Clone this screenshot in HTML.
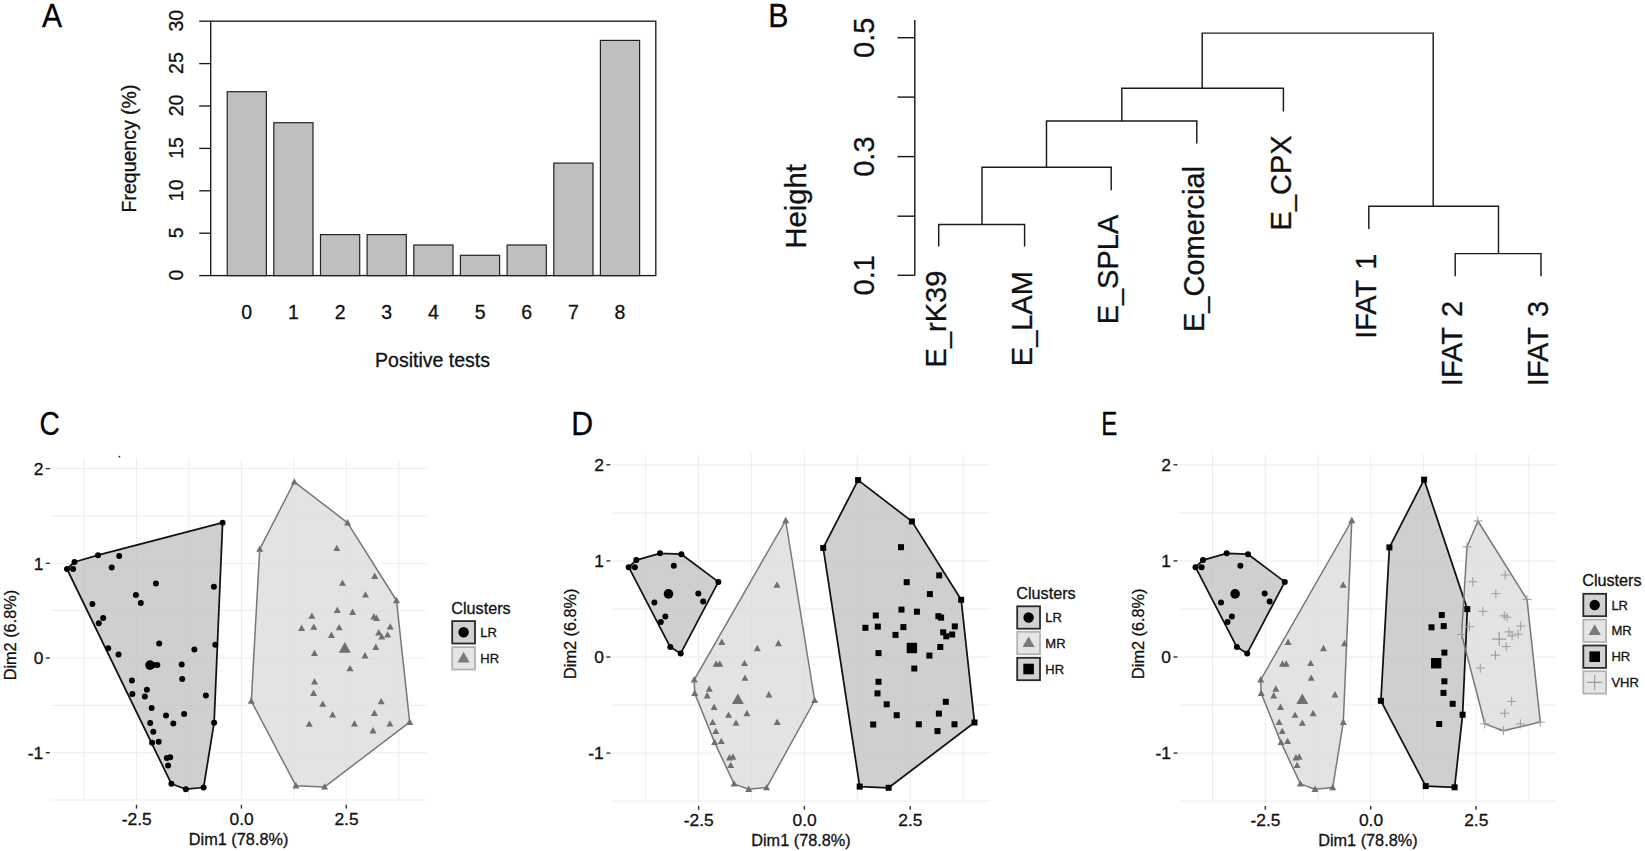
<!DOCTYPE html>
<html lang="en"><head><meta charset="utf-8"><title>Figure</title>
<style>
html,body{margin:0;padding:0;background:#fff;}
body{width:1645px;height:851px;overflow:hidden;}
svg{display:block;font-family:"Liberation Sans", sans-serif;}
text{stroke:#111;stroke-width:0.3px;}
.pl{font-family:"Liberation Sans",sans-serif;}
</style></head><body>
<svg width="1645" height="851" viewBox="0 0 1645 851">
<rect width="1645" height="851" fill="#fff"/>
<text transform="translate(42.0 27.3) scale(0.925 1)" font-size="32.6" fill="#000" stroke="#000" stroke-width="0.35" class="pl">A</text>
<text transform="translate(768.2 27.3) scale(0.93 1)" font-size="32.6" fill="#000" stroke="#000" stroke-width="0.35" class="pl">B</text>
<text transform="translate(39.5 434.9) scale(0.865 1)" font-size="32.6" fill="#000" stroke="#000" stroke-width="0.35" class="pl">C</text>
<text transform="translate(571.3 434.9) scale(0.93 1)" font-size="32.6" fill="#000" stroke="#000" stroke-width="0.35" class="pl">D</text>
<text transform="translate(1101.2 434.9) scale(0.74 1)" font-size="32.6" fill="#000" stroke="#000" stroke-width="0.35" class="pl">E</text>
<g stroke="#1a1a1a" stroke-width="1.35" fill="none">
<rect x="210.7" y="21.2" width="445.09999999999997" height="254.40000000000003"/>
<line x1="199.2" y1="275.6" x2="210.7" y2="275.6"/>
<line x1="199.2" y1="233.2" x2="210.7" y2="233.2"/>
<line x1="199.2" y1="190.8" x2="210.7" y2="190.8"/>
<line x1="199.2" y1="148.4" x2="210.7" y2="148.4"/>
<line x1="199.2" y1="106.0" x2="210.7" y2="106.0"/>
<line x1="199.2" y1="63.6" x2="210.7" y2="63.6"/>
<line x1="199.2" y1="21.2" x2="210.7" y2="21.2"/>
</g>
<g stroke="#222" stroke-width="1.2" fill="#bfbfbf">
<rect x="227.2" y="91.7" width="39.2" height="183.9"/>
<rect x="273.8" y="122.7" width="39.2" height="152.9"/>
<rect x="320.5" y="234.6" width="39.2" height="41.0"/>
<rect x="367.1" y="234.6" width="39.2" height="41.0"/>
<rect x="413.8" y="245.0" width="39.2" height="30.6"/>
<rect x="460.4" y="255.3" width="39.2" height="20.3"/>
<rect x="507.1" y="245.0" width="39.2" height="30.6"/>
<rect x="553.8" y="163.1" width="39.2" height="112.5"/>
<rect x="600.4" y="40.4" width="39.2" height="235.2"/>
</g>
<text x="246.8" y="318.6" font-size="19.5" text-anchor="middle" fill="#111">0</text>
<text x="293.4" y="318.6" font-size="19.5" text-anchor="middle" fill="#111">1</text>
<text x="340.1" y="318.6" font-size="19.5" text-anchor="middle" fill="#111">2</text>
<text x="386.8" y="318.6" font-size="19.5" text-anchor="middle" fill="#111">3</text>
<text x="433.4" y="318.6" font-size="19.5" text-anchor="middle" fill="#111">4</text>
<text x="480.1" y="318.6" font-size="19.5" text-anchor="middle" fill="#111">5</text>
<text x="526.7" y="318.6" font-size="19.5" text-anchor="middle" fill="#111">6</text>
<text x="573.4" y="318.6" font-size="19.5" text-anchor="middle" fill="#111">7</text>
<text x="620.0" y="318.6" font-size="19.5" text-anchor="middle" fill="#111">8</text>
<text x="182.6" y="275.1" font-size="19.5" text-anchor="middle" fill="#111" transform="rotate(-90 182.6 275.1)">0</text>
<text x="182.6" y="232.7" font-size="19.5" text-anchor="middle" fill="#111" transform="rotate(-90 182.6 232.7)">5</text>
<text x="182.6" y="190.3" font-size="19.5" text-anchor="middle" fill="#111" transform="rotate(-90 182.6 190.3)">10</text>
<text x="182.6" y="147.9" font-size="19.5" text-anchor="middle" fill="#111" transform="rotate(-90 182.6 147.9)">15</text>
<text x="182.6" y="105.5" font-size="19.5" text-anchor="middle" fill="#111" transform="rotate(-90 182.6 105.5)">20</text>
<text x="182.6" y="63.1" font-size="19.5" text-anchor="middle" fill="#111" transform="rotate(-90 182.6 63.1)">25</text>
<text x="182.6" y="20.7" font-size="19.5" text-anchor="middle" fill="#111" transform="rotate(-90 182.6 20.7)">30</text>
<text x="432.5" y="366.5" font-size="19.5" text-anchor="middle" fill="#111">Positive tests</text>
<text x="135.5" y="148.5" font-size="19.5" text-anchor="middle" fill="#111" transform="rotate(-90 135.5 148.5)">Frequency (%)</text>
<g stroke="#1a1a1a" stroke-width="1.45" fill="none">
<line x1="914.8" y1="20" x2="914.8" y2="275.3"/>
<line x1="897.5" y1="37.7" x2="914.8" y2="37.7"/>
<line x1="897.5" y1="97.1" x2="914.8" y2="97.1"/>
<line x1="897.5" y1="156.6" x2="914.8" y2="156.6"/>
<line x1="897.5" y1="216.2" x2="914.8" y2="216.2"/>
<line x1="897.5" y1="275.3" x2="914.8" y2="275.3"/>
<polyline points="938.7,246.6 938.7,224.4 1024.6,224.4 1024.6,246.6"/>
<polyline points="982.0,224.4 982.0,167.2 1111.2,167.2 1111.2,190.2"/>
<polyline points="1046.5,167.2 1046.5,121.0 1196.8,121.0 1196.8,143.5"/>
<polyline points="1121.8,121.0 1121.8,88.2 1283.4,88.2 1283.4,111.6"/>
<polyline points="1455.2,276.3 1455.2,253.6 1541.0,253.6 1541.0,276.3"/>
<polyline points="1368.8,229.0 1368.8,206.3 1498.5,206.3 1498.5,253.6"/>
<polyline points="1202.2,88.2 1202.2,33.1 1433.2,33.1 1433.2,206.3"/>
</g>
<text x="874.3" y="37.7" font-size="29" text-anchor="middle" fill="#111" transform="rotate(-90 874.3 37.7)">0.5</text>
<text x="874.3" y="156.6" font-size="29" text-anchor="middle" fill="#111" transform="rotate(-90 874.3 156.6)">0.3</text>
<text x="874.3" y="275.3" font-size="29" text-anchor="middle" fill="#111" transform="rotate(-90 874.3 275.3)">0.1</text>
<text x="805.6" y="206.4" font-size="29.3" text-anchor="middle" fill="#111" transform="rotate(-90 805.6 206.4)">Height</text>
<text x="945.9" y="270.7" font-size="29" text-anchor="end" fill="#111" transform="rotate(-90 945.9 270.7)">E_rK39</text>
<text x="1031.8" y="271.1" font-size="29" text-anchor="end" fill="#111" transform="rotate(-90 1031.8 271.1)">E_LAM</text>
<text x="1118.4" y="214.7" font-size="29" text-anchor="end" fill="#111" transform="rotate(-90 1118.4 214.7)">E_SPLA</text>
<text x="1204.0" y="166.0" font-size="29" text-anchor="end" fill="#111" transform="rotate(-90 1204.0 166.0)">E_Comercial</text>
<text x="1290.6" y="135.3" font-size="29" text-anchor="end" fill="#111" transform="rotate(-90 1290.6 135.3)">E_CPX</text>
<text x="1376.0" y="253.5" font-size="29" text-anchor="end" fill="#111" transform="rotate(-90 1376.0 253.5)" word-spacing="2.6">IFAT 1</text>
<text x="1462.4" y="300.8" font-size="29" text-anchor="end" fill="#111" transform="rotate(-90 1462.4 300.8)" word-spacing="2.6">IFAT 2</text>
<text x="1548.2" y="300.8" font-size="29" text-anchor="end" fill="#111" transform="rotate(-90 1548.2 300.8)" word-spacing="2.6">IFAT 3</text>
<g stroke="#ededed" stroke-width="1.0" fill="none">
<line x1="84.0" y1="458.2" x2="84.0" y2="800.6"/>
<line x1="136.5" y1="458.2" x2="136.5" y2="800.6"/>
<line x1="188.9" y1="458.2" x2="188.9" y2="800.6"/>
<line x1="241.4" y1="458.2" x2="241.4" y2="800.6"/>
<line x1="293.9" y1="458.2" x2="293.9" y2="800.6"/>
<line x1="346.3" y1="458.2" x2="346.3" y2="800.6"/>
<line x1="398.8" y1="458.2" x2="398.8" y2="800.6"/>
<line x1="51.2" y1="800.0" x2="426.0" y2="800.0"/>
<line x1="51.2" y1="752.7" x2="426.0" y2="752.7"/>
<line x1="51.2" y1="705.4" x2="426.0" y2="705.4"/>
<line x1="51.2" y1="658.0" x2="426.0" y2="658.0"/>
<line x1="51.2" y1="610.6" x2="426.0" y2="610.6"/>
<line x1="51.2" y1="563.3" x2="426.0" y2="563.3"/>
<line x1="51.2" y1="516.0" x2="426.0" y2="516.0"/>
<line x1="51.2" y1="468.6" x2="426.0" y2="468.6"/>
</g>
<g stroke="#333" stroke-width="1.4" fill="none">
<line x1="45.9" y1="468.6" x2="49.9" y2="468.6"/>
<line x1="45.9" y1="563.3" x2="49.9" y2="563.3"/>
<line x1="45.9" y1="658.0" x2="49.9" y2="658.0"/>
<line x1="45.9" y1="752.7" x2="49.9" y2="752.7"/>
<line x1="136.5" y1="804.8" x2="136.5" y2="808.6"/>
<line x1="241.4" y1="804.8" x2="241.4" y2="808.6"/>
<line x1="346.3" y1="804.8" x2="346.3" y2="808.6"/>
</g>
<text x="43.3" y="474.8" font-size="17.4" text-anchor="end" fill="#111">2</text>
<text x="43.3" y="569.5" font-size="17.4" text-anchor="end" fill="#111">1</text>
<text x="43.3" y="664.2" font-size="17.4" text-anchor="end" fill="#111">0</text>
<text x="43.3" y="758.9" font-size="17.4" text-anchor="end" fill="#111">-1</text>
<text x="136.7" y="825.3" font-size="17.4" text-anchor="middle" fill="#111">-2.5</text>
<text x="241.7" y="825.3" font-size="17.4" text-anchor="middle" fill="#111">0.0</text>
<text x="346.5" y="825.3" font-size="17.4" text-anchor="middle" fill="#111">2.5</text>
<text x="238.6" y="845.1" font-size="16.3" text-anchor="middle" fill="#111">Dim1 (78.8%)</text>
<text x="16.0" y="635.1" font-size="16.3" text-anchor="middle" fill="#111" transform="rotate(-90 16.0 635.1)">Dim2 (6.8%)</text>
<polygon points="67.0,569.0 74.5,562.0 98.0,555.2 222.6,522.7 214.1,722.7 203.6,787.5 185.9,789.2 171.4,783.8" fill="#c0c0c0" fill-opacity="0.76" stroke="none"/>
<polygon points="251.3,701.1 259.7,549.1 294.3,481.9 347.6,522.8 396.5,600.5 409.7,722.2 324.6,786.9 295.9,785.7" fill="#dadada" fill-opacity="0.76" stroke="none"/>
<polygon points="67.0,569.0 74.5,562.0 98.0,555.2 222.6,522.7 214.1,722.7 203.6,787.5 185.9,789.2 171.4,783.8" fill="none" stroke="#111" stroke-width="1.75" stroke-linejoin="round"/>
<polygon points="251.3,701.1 259.7,549.1 294.3,481.9 347.6,522.8 396.5,600.5 409.7,722.2 324.6,786.9 295.9,785.7" fill="none" stroke="#777" stroke-width="1.5" stroke-linejoin="round"/>
<circle cx="67.0" cy="569.0" r="3.0" fill="#000"/>
<circle cx="74.5" cy="562.0" r="3.0" fill="#000"/>
<circle cx="73.1" cy="569.0" r="3.0" fill="#000"/>
<circle cx="98.0" cy="555.2" r="3.0" fill="#000"/>
<circle cx="119.2" cy="556.1" r="3.0" fill="#000"/>
<circle cx="111.7" cy="567.6" r="3.0" fill="#000"/>
<circle cx="155.9" cy="583.6" r="3.0" fill="#000"/>
<circle cx="135.9" cy="595.1" r="3.0" fill="#000"/>
<circle cx="140.8" cy="603.1" r="3.0" fill="#000"/>
<circle cx="92.4" cy="604.0" r="3.0" fill="#000"/>
<circle cx="103.2" cy="617.9" r="3.0" fill="#000"/>
<circle cx="98.8" cy="623.3" r="3.0" fill="#000"/>
<circle cx="108.2" cy="648.2" r="3.0" fill="#000"/>
<circle cx="118.5" cy="654.5" r="3.0" fill="#000"/>
<circle cx="222.6" cy="522.7" r="3.0" fill="#000"/>
<circle cx="213.9" cy="586.7" r="3.0" fill="#000"/>
<circle cx="159.2" cy="643.5" r="3.0" fill="#000"/>
<circle cx="215.3" cy="644.7" r="3.0" fill="#000"/>
<circle cx="194.4" cy="649.6" r="3.0" fill="#000"/>
<circle cx="153.6" cy="665.0" r="3.0" fill="#000"/>
<circle cx="157.3" cy="665.0" r="3.0" fill="#000"/>
<circle cx="181.7" cy="664.4" r="3.0" fill="#000"/>
<circle cx="182.2" cy="679.0" r="3.0" fill="#000"/>
<circle cx="131.9" cy="680.6" r="3.0" fill="#000"/>
<circle cx="146.9" cy="689.8" r="3.0" fill="#000"/>
<circle cx="132.4" cy="694.0" r="3.0" fill="#000"/>
<circle cx="144.8" cy="696.4" r="3.0" fill="#000"/>
<circle cx="205.9" cy="695.4" r="3.0" fill="#000"/>
<circle cx="151.6" cy="707.9" r="3.0" fill="#000"/>
<circle cx="184.1" cy="714.0" r="3.0" fill="#000"/>
<circle cx="166.0" cy="715.6" r="3.0" fill="#000"/>
<circle cx="214.1" cy="722.7" r="3.0" fill="#000"/>
<circle cx="150.2" cy="722.9" r="3.0" fill="#000"/>
<circle cx="173.3" cy="723.6" r="3.0" fill="#000"/>
<circle cx="153.3" cy="731.8" r="3.0" fill="#000"/>
<circle cx="152.1" cy="742.7" r="3.0" fill="#000"/>
<circle cx="158.7" cy="741.7" r="3.0" fill="#000"/>
<circle cx="166.9" cy="757.9" r="3.0" fill="#000"/>
<circle cx="170.2" cy="757.2" r="3.0" fill="#000"/>
<circle cx="168.1" cy="765.5" r="3.0" fill="#000"/>
<circle cx="171.4" cy="783.8" r="3.0" fill="#000"/>
<circle cx="185.9" cy="789.2" r="3.0" fill="#000"/>
<circle cx="203.6" cy="787.5" r="3.0" fill="#000"/>
<circle cx="150.0" cy="665.1" r="4.8" fill="#000"/>
<path d="M251.3 697.4L254.8 703.8L247.8 703.8Z" fill="#6f6f6f"/>
<path d="M294.3 478.2L297.8 484.6L290.8 484.6Z" fill="#6f6f6f"/>
<path d="M259.7 545.4L263.2 551.8L256.2 551.8Z" fill="#6f6f6f"/>
<path d="M311.9 612.4L315.4 618.8L308.4 618.8Z" fill="#6f6f6f"/>
<path d="M301.6 624.6L305.1 631.0L298.1 631.0Z" fill="#6f6f6f"/>
<path d="M313.8 623.4L317.3 629.8L310.3 629.8Z" fill="#6f6f6f"/>
<path d="M314.5 649.7L318.0 656.1L311.0 656.1Z" fill="#6f6f6f"/>
<path d="M314.5 678.1L318.0 684.5L311.0 684.5Z" fill="#6f6f6f"/>
<path d="M313.6 689.6L317.1 696.0L310.1 696.0Z" fill="#6f6f6f"/>
<path d="M322.7 700.4L326.2 706.8L319.2 706.8Z" fill="#6f6f6f"/>
<path d="M332.6 711.2L336.1 717.6L329.1 717.6Z" fill="#6f6f6f"/>
<path d="M309.3 720.4L312.8 726.8L305.8 726.8Z" fill="#6f6f6f"/>
<path d="M295.9 782.0L299.4 788.4L292.4 788.4Z" fill="#6f6f6f"/>
<path d="M324.6 783.2L328.1 789.6L321.1 789.6Z" fill="#6f6f6f"/>
<path d="M337.3 606.5L340.8 612.9L333.8 612.9Z" fill="#6f6f6f"/>
<path d="M347.6 519.1L351.1 525.5L344.1 525.5Z" fill="#6f6f6f"/>
<path d="M336.8 544.7L340.3 551.1L333.3 551.1Z" fill="#6f6f6f"/>
<path d="M374.7 572.6L378.2 579.0L371.2 579.0Z" fill="#6f6f6f"/>
<path d="M342.5 579.4L346.0 585.8L339.0 585.8Z" fill="#6f6f6f"/>
<path d="M365.5 591.2L369.0 597.6L362.0 597.6Z" fill="#6f6f6f"/>
<path d="M396.5 596.8L400.0 603.2L393.0 603.2Z" fill="#6f6f6f"/>
<path d="M352.6 608.6L356.1 615.0L349.1 615.0Z" fill="#6f6f6f"/>
<path d="M373.9 613.1L377.4 619.5L370.4 619.5Z" fill="#6f6f6f"/>
<path d="M376.6 614.5L380.1 620.9L373.1 620.9Z" fill="#6f6f6f"/>
<path d="M390.2 623.2L393.7 629.6L386.7 629.6Z" fill="#6f6f6f"/>
<path d="M339.2 623.9L342.7 630.3L335.7 630.3Z" fill="#6f6f6f"/>
<path d="M378.7 629.0L382.2 635.4L375.2 635.4Z" fill="#6f6f6f"/>
<path d="M387.6 631.2L391.1 637.6L384.1 637.6Z" fill="#6f6f6f"/>
<path d="M381.7 633.0L385.2 639.4L378.2 639.4Z" fill="#6f6f6f"/>
<path d="M331.4 631.6L334.9 638.0L327.9 638.0Z" fill="#6f6f6f"/>
<path d="M375.8 643.6L379.3 650.0L372.3 650.0Z" fill="#6f6f6f"/>
<path d="M365.0 652.1L368.5 658.5L361.5 658.5Z" fill="#6f6f6f"/>
<path d="M350.0 664.9L353.5 671.3L346.5 671.3Z" fill="#6f6f6f"/>
<path d="M381.2 697.9L384.7 704.3L377.7 704.3Z" fill="#6f6f6f"/>
<path d="M374.4 709.6L377.9 716.0L370.9 716.0Z" fill="#6f6f6f"/>
<path d="M354.5 720.2L358.0 726.6L351.0 726.6Z" fill="#6f6f6f"/>
<path d="M389.9 720.2L393.4 726.6L386.4 726.6Z" fill="#6f6f6f"/>
<path d="M409.7 718.5L413.2 724.9L406.2 724.9Z" fill="#6f6f6f"/>
<path d="M373.0 727.0L376.5 733.4L369.5 733.4Z" fill="#6f6f6f"/>
<path d="M344.8 642.1L350.8 652.7L338.8 652.7Z" fill="#6f6f6f"/>
<text x="451.3" y="613.9" font-size="16.2" text-anchor="start" fill="#111">Clusters</text>
<rect x="452.2" y="621.1" width="22.8" height="22.4" fill="#d1d1d1" stroke="#2a2a2a" stroke-width="1.8"/>
<circle cx="463.6" cy="632.3" r="5.2" fill="#000"/>
<text x="480.3" y="637.2" font-size="13" text-anchor="start" fill="#111">LR</text>
<rect x="452.2" y="647.1" width="22.8" height="22.4" fill="#e5e5e5" stroke="#b2b2b2" stroke-width="1.8"/>
<path d="M463.6 651.8L469.7 662.4L457.5 662.4Z" fill="#7a7a7a"/>
<text x="480.3" y="662.8" font-size="13" text-anchor="start" fill="#111">HR</text>
<circle cx="119.4" cy="456.7" r="0.9" fill="#222"/>
<g stroke="#ededed" stroke-width="1.0" fill="none">
<line x1="645.6" y1="454.2" x2="645.6" y2="801.8"/>
<line x1="698.6" y1="454.2" x2="698.6" y2="801.8"/>
<line x1="751.5" y1="454.2" x2="751.5" y2="801.8"/>
<line x1="804.4" y1="454.2" x2="804.4" y2="801.8"/>
<line x1="857.3" y1="454.2" x2="857.3" y2="801.8"/>
<line x1="910.2" y1="454.2" x2="910.2" y2="801.8"/>
<line x1="963.2" y1="454.2" x2="963.2" y2="801.8"/>
<line x1="611.7" y1="801.1" x2="990.4" y2="801.1"/>
<line x1="611.7" y1="753.1" x2="990.4" y2="753.1"/>
<line x1="611.7" y1="705.0" x2="990.4" y2="705.0"/>
<line x1="611.7" y1="657.0" x2="990.4" y2="657.0"/>
<line x1="611.7" y1="609.0" x2="990.4" y2="609.0"/>
<line x1="611.7" y1="560.9" x2="990.4" y2="560.9"/>
<line x1="611.7" y1="512.9" x2="990.4" y2="512.9"/>
<line x1="611.7" y1="464.8" x2="990.4" y2="464.8"/>
</g>
<g stroke="#333" stroke-width="1.4" fill="none">
<line x1="606.4" y1="464.8" x2="610.4" y2="464.8"/>
<line x1="606.4" y1="560.9" x2="610.4" y2="560.9"/>
<line x1="606.4" y1="657.0" x2="610.4" y2="657.0"/>
<line x1="606.4" y1="753.1" x2="610.4" y2="753.1"/>
<line x1="698.6" y1="805.9" x2="698.6" y2="809.8"/>
<line x1="804.4" y1="805.9" x2="804.4" y2="809.8"/>
<line x1="910.2" y1="805.9" x2="910.2" y2="809.8"/>
</g>
<text x="603.8" y="471.0" font-size="17.4" text-anchor="end" fill="#111">2</text>
<text x="603.8" y="567.1" font-size="17.4" text-anchor="end" fill="#111">1</text>
<text x="603.8" y="663.2" font-size="17.4" text-anchor="end" fill="#111">0</text>
<text x="603.8" y="759.3" font-size="17.4" text-anchor="end" fill="#111">-1</text>
<text x="698.8" y="826.4" font-size="17.4" text-anchor="middle" fill="#111">-2.5</text>
<text x="804.7" y="826.4" font-size="17.4" text-anchor="middle" fill="#111">0.0</text>
<text x="910.4" y="826.4" font-size="17.4" text-anchor="middle" fill="#111">2.5</text>
<text x="801.0" y="846.2" font-size="16.3" text-anchor="middle" fill="#111">Dim1 (78.8%)</text>
<text x="576.5" y="633.7" font-size="16.3" text-anchor="middle" fill="#111" transform="rotate(-90 576.5 633.7)">Dim2 (6.8%)</text>
<polygon points="628.7,567.2 636.3,560.1 660.0,553.3 681.4,554.2 718.4,581.9 680.7,653.4 670.3,647.1" fill="#c0c0c0" fill-opacity="0.76" stroke="none"/>
<polygon points="694.2,679.8 785.7,520.5 814.7,700.5 766.6,787.6 748.7,789.3 734.1,783.9 714.6,742.4 694.7,693.3" fill="#dadada" fill-opacity="0.76" stroke="none"/>
<polygon points="823.2,547.9 858.1,480.1 911.9,521.4 961.2,599.8 974.5,722.5 888.6,787.8 859.7,786.6" fill="#c0c0c0" fill-opacity="0.76" stroke="none"/>
<polygon points="628.7,567.2 636.3,560.1 660.0,553.3 681.4,554.2 718.4,581.9 680.7,653.4 670.3,647.1" fill="none" stroke="#111" stroke-width="1.75" stroke-linejoin="round"/>
<polygon points="694.2,679.8 785.7,520.5 814.7,700.5 766.6,787.6 748.7,789.3 734.1,783.9 714.6,742.4 694.7,693.3" fill="none" stroke="#777" stroke-width="1.5" stroke-linejoin="round"/>
<polygon points="823.2,547.9 858.1,480.1 911.9,521.4 961.2,599.8 974.5,722.5 888.6,787.8 859.7,786.6" fill="none" stroke="#111" stroke-width="1.75" stroke-linejoin="round"/>
<circle cx="628.7" cy="567.2" r="3.0" fill="#000"/>
<circle cx="636.3" cy="560.1" r="3.0" fill="#000"/>
<circle cx="634.9" cy="567.2" r="3.0" fill="#000"/>
<circle cx="660.0" cy="553.3" r="3.0" fill="#000"/>
<circle cx="681.4" cy="554.2" r="3.0" fill="#000"/>
<circle cx="673.8" cy="565.8" r="3.0" fill="#000"/>
<circle cx="718.4" cy="581.9" r="3.0" fill="#000"/>
<circle cx="698.3" cy="593.5" r="3.0" fill="#000"/>
<circle cx="703.2" cy="601.6" r="3.0" fill="#000"/>
<circle cx="654.4" cy="602.5" r="3.0" fill="#000"/>
<circle cx="665.3" cy="616.5" r="3.0" fill="#000"/>
<circle cx="660.8" cy="622.0" r="3.0" fill="#000"/>
<circle cx="670.3" cy="647.1" r="3.0" fill="#000"/>
<circle cx="680.7" cy="653.4" r="3.0" fill="#000"/>
<circle cx="668.5" cy="593.9" r="4.8" fill="#000"/>
<path d="M785.7 516.8L789.2 523.2L782.2 523.2Z" fill="#6f6f6f"/>
<path d="M777.0 581.3L780.5 587.7L773.5 587.7Z" fill="#6f6f6f"/>
<path d="M721.8 638.6L725.3 645.0L718.3 645.0Z" fill="#6f6f6f"/>
<path d="M778.4 639.8L781.9 646.2L774.9 646.2Z" fill="#6f6f6f"/>
<path d="M757.3 644.8L760.8 651.2L753.8 651.2Z" fill="#6f6f6f"/>
<path d="M716.1 660.3L719.6 666.7L712.6 666.7Z" fill="#6f6f6f"/>
<path d="M719.8 660.3L723.3 666.7L716.3 666.7Z" fill="#6f6f6f"/>
<path d="M744.5 659.7L748.0 666.1L741.0 666.1Z" fill="#6f6f6f"/>
<path d="M745.0 674.4L748.5 680.8L741.5 680.8Z" fill="#6f6f6f"/>
<path d="M694.2 676.1L697.7 682.5L690.7 682.5Z" fill="#6f6f6f"/>
<path d="M709.3 685.3L712.8 691.7L705.8 691.7Z" fill="#6f6f6f"/>
<path d="M694.7 689.6L698.2 696.0L691.2 696.0Z" fill="#6f6f6f"/>
<path d="M707.2 692.0L710.7 698.4L703.7 698.4Z" fill="#6f6f6f"/>
<path d="M768.9 691.0L772.4 697.4L765.4 697.4Z" fill="#6f6f6f"/>
<path d="M714.1 703.6L717.6 710.0L710.6 710.0Z" fill="#6f6f6f"/>
<path d="M746.9 709.8L750.4 716.2L743.4 716.2Z" fill="#6f6f6f"/>
<path d="M728.6 711.4L732.1 717.8L725.1 717.8Z" fill="#6f6f6f"/>
<path d="M777.2 718.5L780.7 724.9L773.7 724.9Z" fill="#6f6f6f"/>
<path d="M712.7 718.7L716.2 725.1L709.2 725.1Z" fill="#6f6f6f"/>
<path d="M736.0 719.4L739.5 725.8L732.5 725.8Z" fill="#6f6f6f"/>
<path d="M715.8 727.7L719.3 734.1L712.3 734.1Z" fill="#6f6f6f"/>
<path d="M714.6 738.7L718.1 745.1L711.1 745.1Z" fill="#6f6f6f"/>
<path d="M721.3 737.7L724.8 744.1L717.8 744.1Z" fill="#6f6f6f"/>
<path d="M729.5 754.0L733.0 760.4L726.0 760.4Z" fill="#6f6f6f"/>
<path d="M732.9 753.3L736.4 759.7L729.4 759.7Z" fill="#6f6f6f"/>
<path d="M730.7 761.7L734.2 768.1L727.2 768.1Z" fill="#6f6f6f"/>
<path d="M734.1 780.2L737.6 786.6L730.6 786.6Z" fill="#6f6f6f"/>
<path d="M748.7 785.6L752.2 792.0L745.2 792.0Z" fill="#6f6f6f"/>
<path d="M766.6 783.9L770.1 790.3L763.1 790.3Z" fill="#6f6f6f"/>
<path d="M814.7 696.7L818.2 703.1L811.2 703.1Z" fill="#6f6f6f"/>
<path d="M737.9 693.5L743.9 704.1L731.9 704.1Z" fill="#6f6f6f"/>
<rect x="855.1" y="477.1" width="6.0" height="6.0" fill="#000"/>
<rect x="820.2" y="544.9" width="6.0" height="6.0" fill="#000"/>
<rect x="872.8" y="612.5" width="6.0" height="6.0" fill="#000"/>
<rect x="862.4" y="624.8" width="6.0" height="6.0" fill="#000"/>
<rect x="874.8" y="623.6" width="6.0" height="6.0" fill="#000"/>
<rect x="875.5" y="650.1" width="6.0" height="6.0" fill="#000"/>
<rect x="875.5" y="678.8" width="6.0" height="6.0" fill="#000"/>
<rect x="874.5" y="690.4" width="6.0" height="6.0" fill="#000"/>
<rect x="883.7" y="701.3" width="6.0" height="6.0" fill="#000"/>
<rect x="893.7" y="712.2" width="6.0" height="6.0" fill="#000"/>
<rect x="870.2" y="721.5" width="6.0" height="6.0" fill="#000"/>
<rect x="856.7" y="783.6" width="6.0" height="6.0" fill="#000"/>
<rect x="885.6" y="784.8" width="6.0" height="6.0" fill="#000"/>
<rect x="898.5" y="606.6" width="6.0" height="6.0" fill="#000"/>
<rect x="908.9" y="518.4" width="6.0" height="6.0" fill="#000"/>
<rect x="898.0" y="544.2" width="6.0" height="6.0" fill="#000"/>
<rect x="936.2" y="572.4" width="6.0" height="6.0" fill="#000"/>
<rect x="903.7" y="579.2" width="6.0" height="6.0" fill="#000"/>
<rect x="926.9" y="591.1" width="6.0" height="6.0" fill="#000"/>
<rect x="958.2" y="596.8" width="6.0" height="6.0" fill="#000"/>
<rect x="913.9" y="608.7" width="6.0" height="6.0" fill="#000"/>
<rect x="935.4" y="613.2" width="6.0" height="6.0" fill="#000"/>
<rect x="938.1" y="614.6" width="6.0" height="6.0" fill="#000"/>
<rect x="951.8" y="623.4" width="6.0" height="6.0" fill="#000"/>
<rect x="900.4" y="624.1" width="6.0" height="6.0" fill="#000"/>
<rect x="940.2" y="629.3" width="6.0" height="6.0" fill="#000"/>
<rect x="949.2" y="631.5" width="6.0" height="6.0" fill="#000"/>
<rect x="943.3" y="633.3" width="6.0" height="6.0" fill="#000"/>
<rect x="892.5" y="631.9" width="6.0" height="6.0" fill="#000"/>
<rect x="937.3" y="644.0" width="6.0" height="6.0" fill="#000"/>
<rect x="926.4" y="652.6" width="6.0" height="6.0" fill="#000"/>
<rect x="911.3" y="665.5" width="6.0" height="6.0" fill="#000"/>
<rect x="942.8" y="698.8" width="6.0" height="6.0" fill="#000"/>
<rect x="935.9" y="710.6" width="6.0" height="6.0" fill="#000"/>
<rect x="915.8" y="721.3" width="6.0" height="6.0" fill="#000"/>
<rect x="951.5" y="721.3" width="6.0" height="6.0" fill="#000"/>
<rect x="971.5" y="719.5" width="6.0" height="6.0" fill="#000"/>
<rect x="934.5" y="728.1" width="6.0" height="6.0" fill="#000"/>
<rect x="906.7" y="642.8" width="10.4" height="10.4" fill="#000"/>
<text x="1016.3" y="599.0" font-size="16.2" text-anchor="start" fill="#111">Clusters</text>
<rect x="1017.2" y="606.3" width="22.8" height="22.4" fill="#d1d1d1" stroke="#2a2a2a" stroke-width="1.8"/>
<circle cx="1028.6" cy="617.5" r="5.2" fill="#000"/>
<text x="1045.3" y="622.4" font-size="13" text-anchor="start" fill="#111">LR</text>
<rect x="1017.2" y="631.8" width="22.8" height="22.4" fill="#e5e5e5" stroke="#b2b2b2" stroke-width="1.8"/>
<path d="M1028.6 636.5L1034.7 647.1L1022.5 647.1Z" fill="#7a7a7a"/>
<text x="1045.3" y="647.9" font-size="13" text-anchor="start" fill="#111">MR</text>
<rect x="1017.2" y="657.8" width="22.8" height="22.4" fill="#d1d1d1" stroke="#2a2a2a" stroke-width="1.8"/>
<rect x="1023.3" y="663.7" width="10.6" height="10.6" fill="#000"/>
<text x="1045.3" y="673.5" font-size="13" text-anchor="start" fill="#111">HR</text>
<g stroke="#ededed" stroke-width="1.0" fill="none">
<line x1="1212.6" y1="454.2" x2="1212.6" y2="801.8"/>
<line x1="1265.3" y1="454.2" x2="1265.3" y2="801.8"/>
<line x1="1318.0" y1="454.2" x2="1318.0" y2="801.8"/>
<line x1="1370.7" y1="454.2" x2="1370.7" y2="801.8"/>
<line x1="1423.4" y1="454.2" x2="1423.4" y2="801.8"/>
<line x1="1476.1" y1="454.2" x2="1476.1" y2="801.8"/>
<line x1="1528.8" y1="454.2" x2="1528.8" y2="801.8"/>
<line x1="1178.8" y1="801.1" x2="1557.0" y2="801.1"/>
<line x1="1178.8" y1="753.1" x2="1557.0" y2="753.1"/>
<line x1="1178.8" y1="705.0" x2="1557.0" y2="705.0"/>
<line x1="1178.8" y1="657.0" x2="1557.0" y2="657.0"/>
<line x1="1178.8" y1="609.0" x2="1557.0" y2="609.0"/>
<line x1="1178.8" y1="560.9" x2="1557.0" y2="560.9"/>
<line x1="1178.8" y1="512.9" x2="1557.0" y2="512.9"/>
<line x1="1178.8" y1="464.8" x2="1557.0" y2="464.8"/>
</g>
<g stroke="#333" stroke-width="1.4" fill="none">
<line x1="1173.5" y1="464.8" x2="1177.5" y2="464.8"/>
<line x1="1173.5" y1="560.9" x2="1177.5" y2="560.9"/>
<line x1="1173.5" y1="657.0" x2="1177.5" y2="657.0"/>
<line x1="1173.5" y1="753.1" x2="1177.5" y2="753.1"/>
<line x1="1265.3" y1="805.9" x2="1265.3" y2="809.8"/>
<line x1="1370.7" y1="805.9" x2="1370.7" y2="809.8"/>
<line x1="1476.1" y1="805.9" x2="1476.1" y2="809.8"/>
</g>
<text x="1170.9" y="471.0" font-size="17.4" text-anchor="end" fill="#111">2</text>
<text x="1170.9" y="567.1" font-size="17.4" text-anchor="end" fill="#111">1</text>
<text x="1170.9" y="663.2" font-size="17.4" text-anchor="end" fill="#111">0</text>
<text x="1170.9" y="759.3" font-size="17.4" text-anchor="end" fill="#111">-1</text>
<text x="1265.5" y="826.4" font-size="17.4" text-anchor="middle" fill="#111">-2.5</text>
<text x="1371.0" y="826.4" font-size="17.4" text-anchor="middle" fill="#111">0.0</text>
<text x="1476.3" y="826.4" font-size="17.4" text-anchor="middle" fill="#111">2.5</text>
<text x="1367.9" y="846.2" font-size="16.3" text-anchor="middle" fill="#111">Dim1 (78.8%)</text>
<text x="1143.6" y="633.7" font-size="16.3" text-anchor="middle" fill="#111" transform="rotate(-90 1143.6 633.7)">Dim2 (6.8%)</text>
<polygon points="1195.5,567.2 1203.0,560.1 1226.7,553.3 1248.0,554.2 1284.8,581.9 1247.2,653.4 1236.9,647.1" fill="#c0c0c0" fill-opacity="0.76" stroke="none"/>
<polygon points="1260.7,679.8 1351.8,520.5 1343.3,722.2 1332.7,787.6 1315.0,789.3 1300.4,783.9 1281.0,742.4 1261.2,693.3" fill="#dadada" fill-opacity="0.76" stroke="none"/>
<polygon points="1380.9,700.8 1389.4,547.4 1424.1,479.6 1467.3,609.1 1462.6,714.7 1454.6,787.3 1425.7,786.1" fill="#c0c0c0" fill-opacity="0.76" stroke="none"/>
<polygon points="1461.6,634.5 1467.0,546.8 1477.9,521.0 1527.0,599.4 1540.3,722.1 1503.4,730.7 1484.8,723.9" fill="#dadada" fill-opacity="0.76" stroke="none"/>
<polygon points="1195.5,567.2 1203.0,560.1 1226.7,553.3 1248.0,554.2 1284.8,581.9 1247.2,653.4 1236.9,647.1" fill="none" stroke="#111" stroke-width="1.75" stroke-linejoin="round"/>
<polygon points="1260.7,679.8 1351.8,520.5 1343.3,722.2 1332.7,787.6 1315.0,789.3 1300.4,783.9 1281.0,742.4 1261.2,693.3" fill="none" stroke="#777" stroke-width="1.5" stroke-linejoin="round"/>
<polygon points="1380.9,700.8 1389.4,547.4 1424.1,479.6 1467.3,609.1 1462.6,714.7 1454.6,787.3 1425.7,786.1" fill="none" stroke="#111" stroke-width="1.75" stroke-linejoin="round"/>
<polygon points="1461.6,634.5 1467.0,546.8 1477.9,521.0 1527.0,599.4 1540.3,722.1 1503.4,730.7 1484.8,723.9" fill="none" stroke="#777" stroke-width="1.5" stroke-linejoin="round"/>
<circle cx="1195.5" cy="567.2" r="3.0" fill="#000"/>
<circle cx="1203.0" cy="560.1" r="3.0" fill="#000"/>
<circle cx="1201.6" cy="567.2" r="3.0" fill="#000"/>
<circle cx="1226.7" cy="553.3" r="3.0" fill="#000"/>
<circle cx="1248.0" cy="554.2" r="3.0" fill="#000"/>
<circle cx="1240.4" cy="565.8" r="3.0" fill="#000"/>
<circle cx="1284.8" cy="581.9" r="3.0" fill="#000"/>
<circle cx="1264.7" cy="593.5" r="3.0" fill="#000"/>
<circle cx="1269.6" cy="601.6" r="3.0" fill="#000"/>
<circle cx="1221.0" cy="602.5" r="3.0" fill="#000"/>
<circle cx="1231.9" cy="616.5" r="3.0" fill="#000"/>
<circle cx="1227.5" cy="622.0" r="3.0" fill="#000"/>
<circle cx="1236.9" cy="647.1" r="3.0" fill="#000"/>
<circle cx="1247.2" cy="653.4" r="3.0" fill="#000"/>
<circle cx="1235.1" cy="593.9" r="4.8" fill="#000"/>
<path d="M1351.8 516.8L1355.3 523.2L1348.3 523.2Z" fill="#6f6f6f"/>
<path d="M1343.1 581.3L1346.6 587.7L1339.6 587.7Z" fill="#6f6f6f"/>
<path d="M1288.1 638.6L1291.6 645.0L1284.6 645.0Z" fill="#6f6f6f"/>
<path d="M1344.5 639.8L1348.0 646.2L1341.0 646.2Z" fill="#6f6f6f"/>
<path d="M1323.5 644.8L1327.0 651.2L1320.0 651.2Z" fill="#6f6f6f"/>
<path d="M1282.5 660.3L1286.0 666.7L1279.0 666.7Z" fill="#6f6f6f"/>
<path d="M1286.2 660.3L1289.7 666.7L1282.7 666.7Z" fill="#6f6f6f"/>
<path d="M1310.7 659.7L1314.2 666.1L1307.2 666.1Z" fill="#6f6f6f"/>
<path d="M1311.2 674.4L1314.7 680.8L1307.7 680.8Z" fill="#6f6f6f"/>
<path d="M1260.7 676.1L1264.2 682.5L1257.2 682.5Z" fill="#6f6f6f"/>
<path d="M1275.8 685.3L1279.3 691.7L1272.3 691.7Z" fill="#6f6f6f"/>
<path d="M1261.2 689.6L1264.7 696.0L1257.7 696.0Z" fill="#6f6f6f"/>
<path d="M1273.7 692.0L1277.2 698.4L1270.2 698.4Z" fill="#6f6f6f"/>
<path d="M1335.0 691.0L1338.5 697.4L1331.5 697.4Z" fill="#6f6f6f"/>
<path d="M1280.5 703.6L1284.0 710.0L1277.0 710.0Z" fill="#6f6f6f"/>
<path d="M1313.1 709.8L1316.6 716.2L1309.6 716.2Z" fill="#6f6f6f"/>
<path d="M1295.0 711.4L1298.5 717.8L1291.5 717.8Z" fill="#6f6f6f"/>
<path d="M1343.3 718.5L1346.8 724.9L1339.8 724.9Z" fill="#6f6f6f"/>
<path d="M1279.1 718.7L1282.6 725.1L1275.6 725.1Z" fill="#6f6f6f"/>
<path d="M1302.3 719.4L1305.8 725.8L1298.8 725.8Z" fill="#6f6f6f"/>
<path d="M1282.2 727.7L1285.7 734.1L1278.7 734.1Z" fill="#6f6f6f"/>
<path d="M1281.0 738.7L1284.5 745.1L1277.5 745.1Z" fill="#6f6f6f"/>
<path d="M1287.6 737.7L1291.1 744.1L1284.1 744.1Z" fill="#6f6f6f"/>
<path d="M1295.9 754.0L1299.4 760.4L1292.4 760.4Z" fill="#6f6f6f"/>
<path d="M1299.2 753.3L1302.7 759.7L1295.7 759.7Z" fill="#6f6f6f"/>
<path d="M1297.1 761.7L1300.6 768.1L1293.6 768.1Z" fill="#6f6f6f"/>
<path d="M1300.4 780.2L1303.9 786.6L1296.9 786.6Z" fill="#6f6f6f"/>
<path d="M1315.0 785.6L1318.5 792.0L1311.5 792.0Z" fill="#6f6f6f"/>
<path d="M1332.7 783.9L1336.2 790.3L1329.2 790.3Z" fill="#6f6f6f"/>
<path d="M1302.3 693.5L1308.3 704.1L1296.3 704.1Z" fill="#6f6f6f"/>
<rect x="1421.1" y="476.6" width="6.0" height="6.0" fill="#000"/>
<rect x="1386.4" y="544.4" width="6.0" height="6.0" fill="#000"/>
<rect x="1438.8" y="612.0" width="6.0" height="6.0" fill="#000"/>
<rect x="1428.5" y="624.3" width="6.0" height="6.0" fill="#000"/>
<rect x="1440.7" y="623.1" width="6.0" height="6.0" fill="#000"/>
<rect x="1441.4" y="649.6" width="6.0" height="6.0" fill="#000"/>
<rect x="1441.4" y="678.3" width="6.0" height="6.0" fill="#000"/>
<rect x="1440.5" y="689.9" width="6.0" height="6.0" fill="#000"/>
<rect x="1449.7" y="700.8" width="6.0" height="6.0" fill="#000"/>
<rect x="1459.6" y="711.7" width="6.0" height="6.0" fill="#000"/>
<rect x="1436.2" y="721.0" width="6.0" height="6.0" fill="#000"/>
<rect x="1422.7" y="783.1" width="6.0" height="6.0" fill="#000"/>
<rect x="1451.6" y="784.3" width="6.0" height="6.0" fill="#000"/>
<rect x="1464.3" y="606.1" width="6.0" height="6.0" fill="#000"/>
<rect x="1377.9" y="697.8" width="6.0" height="6.0" fill="#000"/>
<rect x="1431.0" y="658.0" width="10.4" height="10.4" fill="#000"/>
<path d="M1473.4 521.0H1482.4M1477.9 516.5V525.5" stroke="#9a9a9a" stroke-width="1.0" fill="none"/>
<path d="M1462.5 546.8H1471.5M1467.0 542.3V551.3" stroke="#9a9a9a" stroke-width="1.0" fill="none"/>
<path d="M1500.6 575.0H1509.6M1505.1 570.5V579.5" stroke="#9a9a9a" stroke-width="1.0" fill="none"/>
<path d="M1468.3 581.8H1477.3M1472.8 577.3V586.3" stroke="#9a9a9a" stroke-width="1.0" fill="none"/>
<path d="M1491.4 593.7H1500.4M1495.9 589.2V598.2" stroke="#9a9a9a" stroke-width="1.0" fill="none"/>
<path d="M1522.5 599.4H1531.5M1527.0 594.9V603.9" stroke="#9a9a9a" stroke-width="1.0" fill="none"/>
<path d="M1478.4 611.3H1487.4M1482.9 606.8V615.8" stroke="#9a9a9a" stroke-width="1.0" fill="none"/>
<path d="M1499.8 615.8H1508.8M1504.3 611.3V620.3" stroke="#9a9a9a" stroke-width="1.0" fill="none"/>
<path d="M1502.5 617.2H1511.5M1507.0 612.7V621.7" stroke="#9a9a9a" stroke-width="1.0" fill="none"/>
<path d="M1516.2 626.0H1525.2M1520.7 621.5V630.5" stroke="#9a9a9a" stroke-width="1.0" fill="none"/>
<path d="M1464.9 626.7H1473.9M1469.4 622.2V631.2" stroke="#9a9a9a" stroke-width="1.0" fill="none"/>
<path d="M1504.6 631.9H1513.6M1509.1 627.4V636.4" stroke="#9a9a9a" stroke-width="1.0" fill="none"/>
<path d="M1513.6 634.1H1522.6M1518.1 629.6V638.6" stroke="#9a9a9a" stroke-width="1.0" fill="none"/>
<path d="M1507.6 635.9H1516.6M1512.1 631.4V640.4" stroke="#9a9a9a" stroke-width="1.0" fill="none"/>
<path d="M1457.1 634.5H1466.1M1461.6 630.0V639.0" stroke="#9a9a9a" stroke-width="1.0" fill="none"/>
<path d="M1501.7 646.6H1510.7M1506.2 642.1V651.1" stroke="#9a9a9a" stroke-width="1.0" fill="none"/>
<path d="M1490.9 655.2H1499.9M1495.4 650.7V659.7" stroke="#9a9a9a" stroke-width="1.0" fill="none"/>
<path d="M1475.8 668.1H1484.8M1480.3 663.6V672.6" stroke="#9a9a9a" stroke-width="1.0" fill="none"/>
<path d="M1507.1 701.4H1516.1M1511.6 696.9V705.9" stroke="#9a9a9a" stroke-width="1.0" fill="none"/>
<path d="M1500.3 713.2H1509.3M1504.8 708.7V717.7" stroke="#9a9a9a" stroke-width="1.0" fill="none"/>
<path d="M1480.3 723.9H1489.3M1484.8 719.4V728.4" stroke="#9a9a9a" stroke-width="1.0" fill="none"/>
<path d="M1515.9 723.9H1524.9M1520.4 719.4V728.4" stroke="#9a9a9a" stroke-width="1.0" fill="none"/>
<path d="M1535.8 722.1H1544.8M1540.3 717.6V726.6" stroke="#9a9a9a" stroke-width="1.0" fill="none"/>
<path d="M1498.9 730.7H1507.9M1503.4 726.2V735.2" stroke="#9a9a9a" stroke-width="1.0" fill="none"/>
<path d="M1492.2 639.1H1506.2M1499.2 632.1V646.1" stroke="#9a9a9a" stroke-width="1.2" fill="none"/>
<text x="1582.2" y="586.2" font-size="16.2" text-anchor="start" fill="#111">Clusters</text>
<rect x="1583.3" y="593.8" width="22.8" height="22.4" fill="#d1d1d1" stroke="#2a2a2a" stroke-width="1.8"/>
<circle cx="1594.7" cy="605.0" r="5.2" fill="#000"/>
<text x="1611.4" y="609.9" font-size="13" text-anchor="start" fill="#111">LR</text>
<rect x="1583.3" y="619.6" width="22.8" height="22.4" fill="#e5e5e5" stroke="#b2b2b2" stroke-width="1.8"/>
<path d="M1594.7 624.3L1600.8 634.9L1588.6 634.9Z" fill="#7a7a7a"/>
<text x="1611.4" y="635.4" font-size="13" text-anchor="start" fill="#111">MR</text>
<rect x="1583.3" y="645.5" width="22.8" height="22.4" fill="#d1d1d1" stroke="#2a2a2a" stroke-width="1.8"/>
<rect x="1589.4" y="651.4" width="10.6" height="10.6" fill="#000"/>
<text x="1611.4" y="661.0" font-size="13" text-anchor="start" fill="#111">HR</text>
<rect x="1583.3" y="671.2" width="22.8" height="22.4" fill="#e5e5e5" stroke="#b2b2b2" stroke-width="1.8"/>
<path d="M1587.2 682.4H1602.2M1594.7 674.9V689.9" stroke="#9a9a9a" stroke-width="1.1" fill="none"/>
<text x="1611.4" y="686.5" font-size="13" text-anchor="start" fill="#111">VHR</text>
</svg>
</body></html>
